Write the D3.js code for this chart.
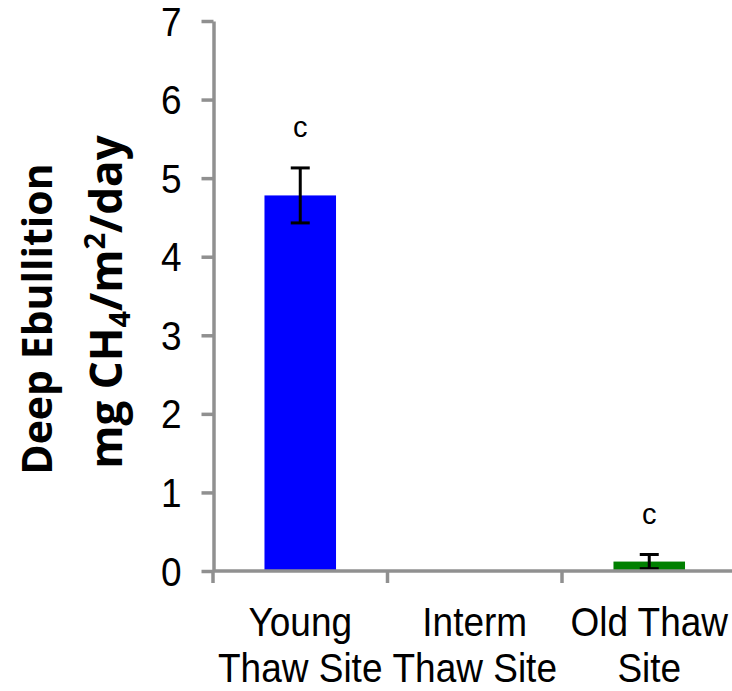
<!DOCTYPE html>
<html>
<head>
<meta charset="utf-8">
<script src="https://cdn.jsdelivr.net/npm/d3@7"></script>
<style>
  html, body { margin: 0; padding: 0; background: #fff; }
  svg { display: block; }
</style>
</head>
<body>
<svg id="chart" width="732" height="691"></svg>
<script>
// Deep ebullition by thaw-site age
const sites = ["Young|Thaw Site", "Interm|Thaw Site", "Old Thaw|Site"];
const means = [4.78, null, 0.12];
const errors = [0.35, null, 0.09];
const letters = ["c", null, "c"];
const colors = ["#0000ff", "#0000ff", "#008000"];
const yTicks = [0, 1, 2, 3, 4, 5, 6, 7];

const svg = d3.select("#chart");
const axisColor = "#909090";
const labelFont = "Liberation Sans, Arial, sans-serif";

const x = d3.scaleBand().domain(sites).range([213, 736.5]).padding(0);
const y = d3.scaleLinear().domain([0, 7]).range([571, 21]);
const barFrac = 0.41;

const data = sites.map((s, i) => ({ site: s, mean: means[i], err: errors[i], letter: letters[i], color: colors[i] }))
  .filter(d => d.mean !== null);

// bars
svg.append("g").selectAll("rect").data(data).join("rect")
  .attr("x", d => x(d.site) + x.bandwidth() * (1 - barFrac) / 2)
  .attr("width", x.bandwidth() * barFrac)
  .attr("y", d => y(d.mean))
  .attr("height", d => y(0) - y(d.mean))
  .attr("fill", d => d.color);

// error bars
const capHalf = 9.5;
const eg = svg.append("g").attr("stroke", "#000").attr("stroke-width", 3);
data.forEach(d => {
  const cx = x(d.site) + x.bandwidth() / 2;
  const top = y(d.mean + d.err), bot = y(Math.max(0, d.mean - d.err));
  eg.append("line").attr("x1", cx).attr("x2", cx).attr("y1", top).attr("y2", bot);
  eg.append("line").attr("x1", cx - capHalf).attr("x2", cx + capHalf).attr("y1", top).attr("y2", top);
  eg.append("line").attr("x1", cx - capHalf).attr("x2", cx + capHalf).attr("y1", bot).attr("y2", bot);
});

// significance letters
svg.append("g").selectAll("text").data(data).join("text")
  .attr("x", d => x(d.site) + x.bandwidth() / 2)
  .attr("y", d => y(d.mean + d.err) - 31)
  .attr("text-anchor", "middle")
  .attr("font-family", labelFont)
  .attr("font-size", 29)
  .attr("fill", "#000")
  .text(d => d.letter);

// y axis
const yAxis = svg.append("g").attr("transform", "translate(213.5,0)")
  .call(d3.axisLeft(y).tickValues(yTicks).tickFormat(d3.format("d")).tickSize(12).tickSizeOuter(0).tickPadding(20));
yAxis.select(".domain").attr("stroke", axisColor).attr("stroke-width", 3.5);
yAxis.selectAll(".tick line").attr("stroke", axisColor).attr("stroke-width", 3.5);
yAxis.selectAll(".tick text")
  .attr("font-family", labelFont)
  .attr("font-size", 37)
  .attr("fill", "#000")
  .attr("dy", null)
  .attr("y", 0)
  .attr("transform", "translate(0,14) scale(1,1.08)");

// x axis: line along zero with ticks at the category boundaries
const xg = svg.append("g");
const bounds = sites.map(s => x(s)).concat([x.range()[1]]);
xg.append("line")
  .attr("x1", x.range()[0]).attr("x2", x.range()[1])
  .attr("y1", y(0)).attr("y2", y(0))
  .attr("stroke", axisColor).attr("stroke-width", 3.5);
xg.selectAll("line.tk").data(bounds).join("line").attr("class", "tk")
  .attr("x1", d => d).attr("x2", d => d)
  .attr("y1", y(0)).attr("y2", y(0) + 12)
  .attr("stroke", axisColor).attr("stroke-width", 3.5);

// category labels, two lines each, slightly tall
const labelLines = [636, 682];
xg.selectAll("g.cat").data(sites).join("g").attr("class", "cat")
  .each(function (s) {
    const cx = x(s) + x.bandwidth() / 2;
    const parts = s.split("|");
    d3.select(this).selectAll("text").data(parts).join("text")
      .attr("transform", (p, i) => `translate(${cx},${labelLines[i]}) scale(1,1.12)`)
      .attr("text-anchor", "middle")
      .attr("font-family", labelFont)
      .attr("font-size", 37)
      .attr("fill", "#000")
      .text(p => p);
  });

// y axis title
const titleFont = "Open Sans, Noto Sans, sans-serif";
svg.append("text")
  .attr("transform", "translate(52,319) rotate(-90)")
  .attr("text-anchor", "middle")
  .attr("font-family", titleFont)
  .attr("font-weight", "bold")
  .attr("font-size", 41)
  .attr("fill", "#000")
  .text("Deep Ebullition");

const t2 = svg.append("text")
  .attr("transform", "translate(122,302) rotate(-90)")
  .attr("text-anchor", "middle")
  .attr("font-family", titleFont)
  .attr("font-weight", "bold")
  .attr("font-size", 44)
  .attr("fill", "#000");
t2.append("tspan").text("mg CH");
t2.append("tspan").attr("font-size", 29).attr("dy", 8).text("4");
t2.append("tspan").attr("dy", -8).text("/m");
t2.append("tspan").attr("font-size", 29).attr("dy", -17).text("2");
t2.append("tspan").attr("dy", 17).text("/day");
</script>
</body>
</html>
